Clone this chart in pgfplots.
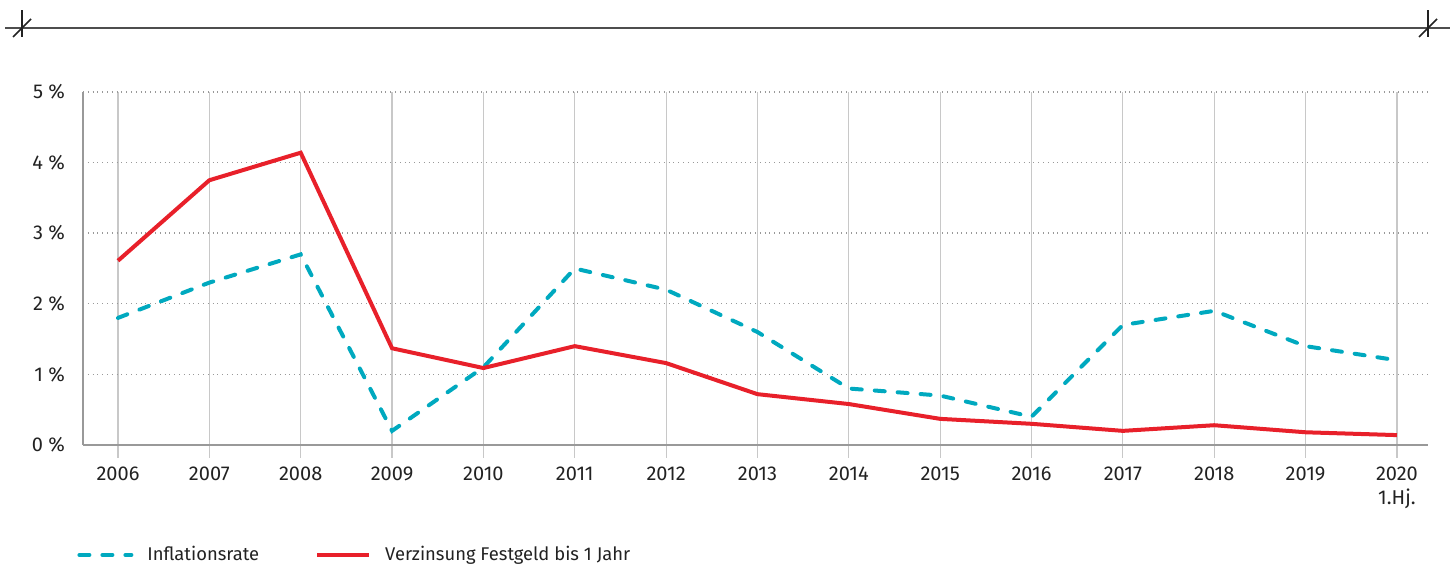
\documentclass[border=0pt]{standalone}
\usepackage{fontspec}
\setmainfont{Fira Sans}
\usepackage{pgfplots}
\pgfplotsset{compat=1.18}
\definecolor{cred}{HTML}{E8202A}
\definecolor{ccyan}{HTML}{00A9BF}
\definecolor{cgrid}{HTML}{C8C8C8}
\definecolor{caxis}{HTML}{999999}
\definecolor{ctext}{HTML}{222222}
\begin{document}
\begin{tikzpicture}
\useasboundingbox (0,0) rectangle (728pt,282.5pt);
\draw[line width=0.6pt, color=ctext!80] (2.5pt,268.5pt) -- (725pt,268.5pt);
\foreach \x in {11pt,714pt}{
  \draw[line width=0.8pt, color=ctext] (\x,264pt) -- (\x,277.5pt);
  \draw[line width=0.8pt, color=ctext] ([xshift=-4.5pt]\x,264pt) -- ([xshift=4.5pt]\x,273pt);
}
\begin{axis}[
  at={(41.5pt,60pt)}, anchor=south west,
  scale only axis, width=672.5pt, height=176.5pt,
  xmin=-0.383, xmax=14.34, ymin=0, ymax=5,
  axis x line*=bottom, axis y line*=left,
  axis line style={color=caxis, line width=0.6pt, -},
  xtick={0,...,14},
  xticklabels={2006,2007,2008,2009,2010,2011,2012,2013,2014,2015,2016,2017,2018,2019,{2020\\1.Hj.}},
  xticklabel style={align=center, font=\fontsize{10pt}{12pt}\selectfont, color=ctext, yshift=-1pt},
  tick align=outside, major tick length=6.5pt,
  xtick style={color=cgrid, line width=0.6pt},
  ytick={0,1,2,3,4,5},
  yticklabels={0 \%,1 \%,2 \%,3 \%,4 \%,5 \%},
  yticklabel style={font=\fontsize{10pt}{12pt}\selectfont, color=ctext, xshift=1pt},
  ytick style={draw=none},
  xmajorgrids, ymajorgrids,
  x grid style={color=cgrid, line width=0.6pt},
  y grid style={color=caxis, dotted, line width=0.7pt},
  /pgf/number format/assume math mode=true,
  legend columns=2,
  legend style={at={(0,0)}, anchor=west, yshift=-55pt, xshift=-6pt, draw=none, fill=none,
    font=\fontsize{9.2pt}{11pt}\selectfont, text=ctext,
    /tikz/every odd column/.append style={column sep=5pt},
    /tikz/every even column/.append style={column sep=26pt}},
  legend image code/.code={\draw[#1] (0pt,0pt) -- (26pt,0pt);},
]
\addplot[ccyan, line width=2pt, line cap=round, dash pattern=on 5pt off 6.5pt] coordinates {
(0,1.8) (1,2.3) (2,2.7) (3,0.2) (4,1.1) (5,2.5) (6,2.2) (7,1.6) (8,0.8) (9,0.7) (10,0.4) (11,1.7) (12,1.9) (13,1.4) (14,1.2)};
\addlegendentry{Inflationsrate}
\addplot[cred, line width=2pt] coordinates {
(0,2.61) (1,3.75) (2,4.14) (3,1.37) (4,1.09) (5,1.40) (6,1.16) (7,0.72) (8,0.58) (9,0.37) (10,0.30) (11,0.20) (12,0.28) (13,0.18) (14,0.14)};
\addlegendentry{Verzinsung Festgeld bis 1 Jahr}
\end{axis}
\end{tikzpicture}
\end{document}
